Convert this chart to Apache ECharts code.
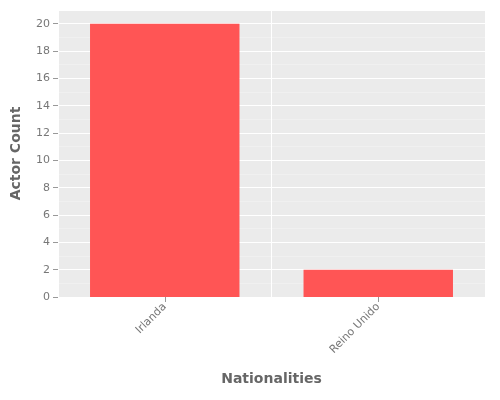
<!DOCTYPE html>
<html><head><meta charset="utf-8">
<script src="https://cdn.jsdelivr.net/npm/echarts@6/dist/echarts.min.js"></script>
<style>html,body{margin:0;padding:0;background:#fff}#c{width:500px;height:400px}</style>
</head><body><div id="c"></div>
<script>
const categories = ["Irlanda", "Reino Unido"];
const actorCounts = [20, 2];
const chart = echarts.init(document.getElementById('c'));
chart.setOption({
  animation:false,
  grid:{left:58,right:15,top:10,bottom:103,backgroundColor:'#EBEBEB',show:true,borderWidth:0},
  xAxis:{type:'category',data:categories,name:'Nationalities',nameLocation:'middle',nameGap:75,
    nameTextStyle:{fontSize:14,color:'#666',fontWeight:'bold',fontFamily:'DejaVu Sans'},
    axisLine:{show:false},axisTick:{show:true,alignWithLabel:true,lineStyle:{color:'#999'}},
    axisLabel:{rotate:45,color:'#777',fontSize:11,fontFamily:'DejaVu Sans',margin:8},
    splitLine:{show:true,lineStyle:{color:'#fff'}}},
  yAxis:{type:'value',min:0,max:21,interval:2,name:'Actor Count',nameLocation:'middle',nameGap:35,
    nameTextStyle:{fontSize:14,color:'#666',fontWeight:'bold',fontFamily:'DejaVu Sans'},
    axisLine:{show:false},axisTick:{show:true,lineStyle:{color:'#999'}},
    axisLabel:{color:'#777',fontSize:11,fontFamily:'DejaVu Sans',showMaxLabel:false},
    splitLine:{lineStyle:{color:'#fff',width:1}},
    minorTick:{show:false,splitNumber:2},minorSplitLine:{show:true,lineStyle:{color:'#F5F5F5',width:0.5}}},
  series:[{type:'bar',data:actorCounts,barWidth:'70%',itemStyle:{color:'#FF5555'}}]
});
</script></body></html>
